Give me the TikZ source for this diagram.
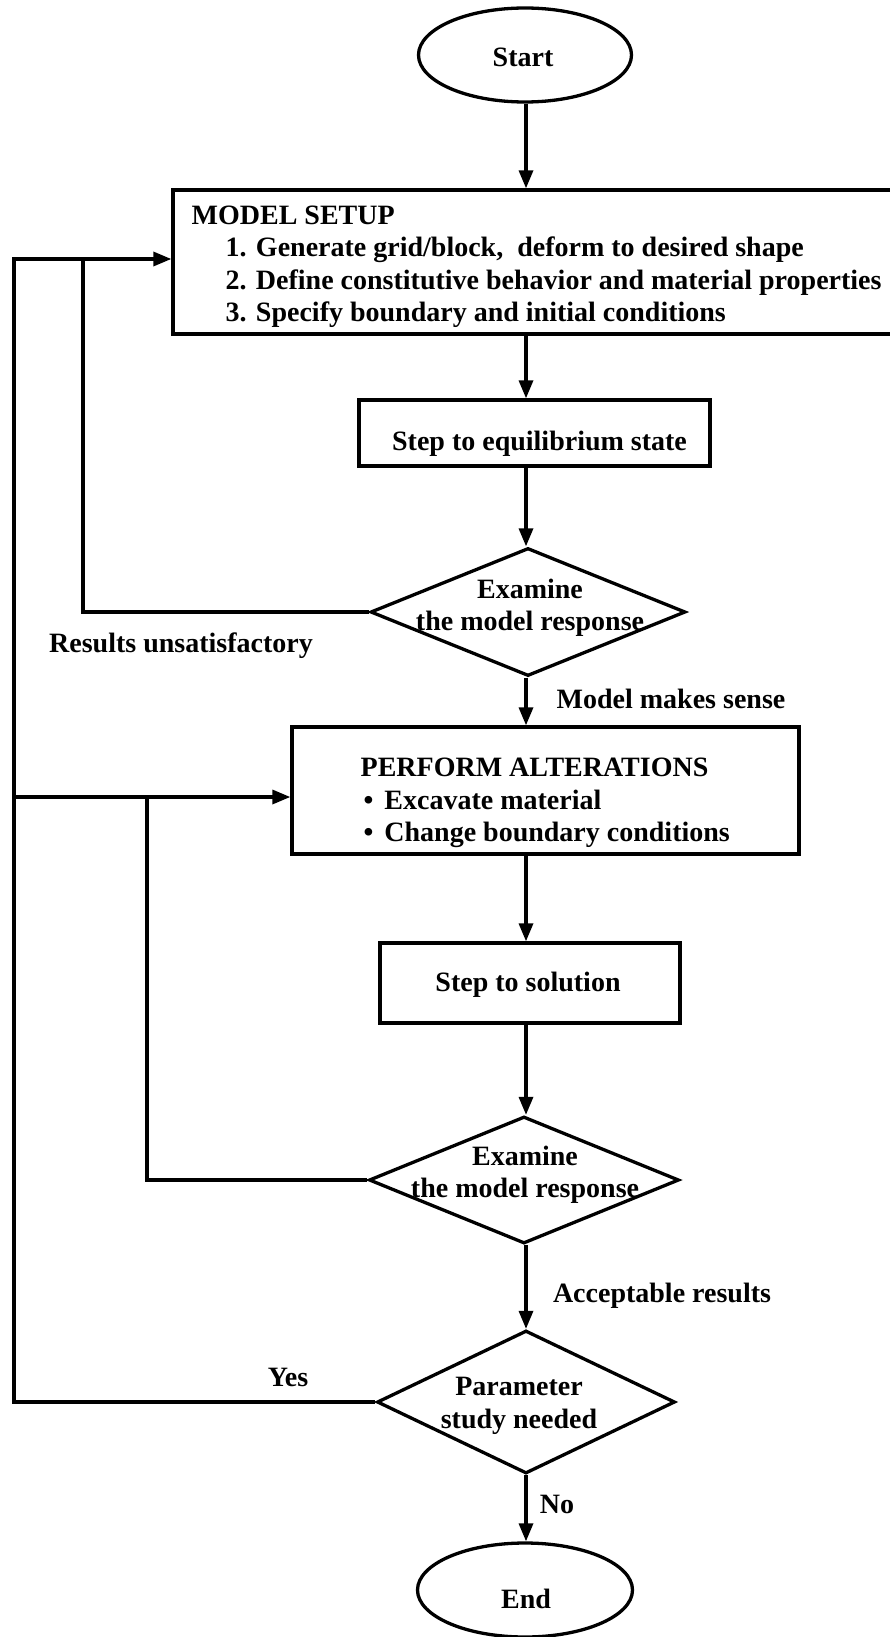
\documentclass[tikz,border=0pt]{standalone}
\usepackage{fontspec}
\setmainfont{Liberation Serif}
\usetikzlibrary{shapes.geometric,arrows.meta}
\begin{document}
\begin{tikzpicture}[x=1pt,y=-1pt,
  line width=3.3pt, line join=miter,
  txt/.style={font=\fontsize{28}{32.5}\selectfont\bfseries, inner sep=0pt},
  frame/.style={draw, rectangle, inner sep=0pt},
  decide/.style={draw, diamond, inner sep=0pt},
  terminal/.style={draw, ellipse, inner sep=0pt, minimum width=213pt, minimum height=94pt},
  arr/.style={-{Triangle[length=18pt,width=14pt]}},
]
\useasboundingbox (0,0) rectangle (890,1637);

% column through which the main flow runs
\coordinate (col) at (526,0);

% ---- shapes ----
\node[terminal] (start) at (525,55) {};
\node[frame, minimum width=740pt, minimum height=144pt] (setup) at (543,262) {};
\node[frame, minimum width=351pt, minimum height=66pt] (equil) at (534.5,433) {};
\node[decide, minimum width=315pt, minimum height=128pt] (d1) at (528,612) {};
\node[frame, minimum width=507pt, minimum height=127pt] (perform) at (545.5,790.5) {};
\node[frame, minimum width=300pt, minimum height=80pt] (sol) at (530,983) {};
\node[decide, minimum width=310pt, minimum height=127pt] (d2) at (524,1180) {};
\node[decide, minimum width=298pt, minimum height=143pt] (d3) at (526,1402) {};
\node[terminal, minimum width=215pt] (end) at (525,1590) {};

% ---- texts ----
\node[txt] (starttxt) at (523,57) {Start};
\node[txt, anchor=west, align=left] (setuptxt) at (190,267) {MODEL SETUP\\
\hspace*{34pt}1. Generate grid/block,\ \ deform to desired shape\\
\hspace*{34pt}2. Define constitutive behavior and material properties\\
\hspace*{34pt}3. Specify boundary and initial conditions};
\node[txt] (equiltxt) at (539.5,444) {Step to equilibrium state};
\node[txt, align=center] (d1txt) at (530,608) {Examine\\the model response};
\node[txt, anchor=west, align=left] (performtxt) at (359,803) {PERFORM ALTERATIONS\\
\hspace*{3pt}\textbullet\hspace{11pt}Excavate material\\
\hspace*{3pt}\textbullet\hspace{11pt}Change boundary conditions};
\node[txt] (soltxt) at (528,985) {Step to solution};
\node[txt, align=center] (d2txt) at (525,1175) {Examine\\the model response};
\node[txt, align=center] (d3txt) at (519,1406) {Parameter\\study needed};
\node[txt] (endtxt) at (526,1599) {End};

% ---- branch labels ----
\node[txt] (lbunsat) at (181,646) {Results unsatisfactory};
\node[txt] (lbsense) at (671,699) {Model makes sense};
\node[txt] (lbaccept) at (662,1296) {Acceptable results};
\node[txt] (lbyes) at (288,1377) {Yes};
\node[txt] (lbno) at (557,1504) {No};

% ---- main flow ----
\draw[arr] (col |- start.south) -- (col |- setup.north);
\draw[arr] (col |- setup.south) -- (col |- equil.north);
\draw[arr] (col |- equil.south) -- (col |- d1.north);
\draw[arr] (col |- d1.south) -- (col |- perform.north);
\draw[arr] (col |- perform.south) -- (col |- sol.north);
\draw[arr] (col |- sol.south) -- (col |- d2.north);
\draw[arr] (col |- d2.south) -- (col |- d3.north);
\draw[arr] (col |- d3.south) -- (col |- end.north);

% ---- feedback loops ----
\coordinate (outtop) at (14,259);
\coordinate (intop) at (83,259);
\coordinate (outmid) at (14,797);
\coordinate (inmid) at (147,797);

\draw (d3.west) -| (outtop) -- (intop);
\draw[arr] (d1.west) -| (intop) -- (intop -| setup.west);
\draw[arr] (outmid) -- (outmid -| perform.west);
\draw (d2.west) -| (inmid);
\end{tikzpicture}
\end{document}
